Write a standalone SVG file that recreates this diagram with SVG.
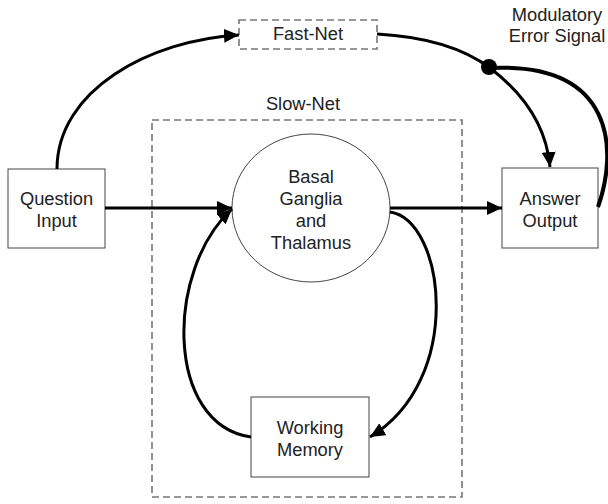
<svg xmlns="http://www.w3.org/2000/svg" width="608" height="504" viewBox="0 0 608 504">
<defs>
<style>
.box{fill:#fff;stroke:#444;stroke-width:1}
.dash{fill:none;stroke:#777;stroke-width:1.6;stroke-dasharray:7 4}
.t{font-family:"Liberation Sans",Arial,sans-serif;font-size:18.3px;fill:#222;text-anchor:middle}
.c{fill:none;stroke:#000;stroke-width:3}
</style>
<marker id="ah" markerUnits="userSpaceOnUse" markerWidth="16" markerHeight="14" refX="15" refY="7" orient="auto">
<path d="M0,0 L15,7 L0,14 Z" fill="#000"/>
</marker>
</defs>
<rect width="608" height="504" fill="#fff"/>
<g id="slow-net">
<rect class="dash" x="152" y="120" width="310" height="377"/>
<text class="t" x="303" y="110">Slow-Net</text>
</g>
<g id="fast-net">
<rect class="dash" x="239" y="20" width="138" height="29"/>
<text class="t" x="308" y="40">Fast-Net</text>
</g>
<g id="question-input">
<rect class="box" x="8" y="169" width="97" height="79"/>
<text class="t" x="56.5" y="205">Question</text>
<text class="t" x="56.5" y="227">Input</text>
</g>
<g id="basal-ganglia">
<ellipse class="box" cx="311" cy="208" rx="79" ry="74"/>
<text class="t" x="311" y="183">Basal</text>
<text class="t" x="311" y="205">Ganglia</text>
<text class="t" x="311" y="227">and</text>
<text class="t" x="311" y="249">Thalamus</text>
</g>
<g id="answer-output">
<rect class="box" x="502" y="168" width="96" height="80"/>
<text class="t" x="550" y="205">Answer</text>
<text class="t" x="550" y="227">Output</text>
</g>
<g id="working-memory">
<rect class="box" x="251" y="397" width="118" height="80"/>
<text class="t" x="310" y="434">Working</text>
<text class="t" x="310" y="456">Memory</text>
</g>
<g id="modulatory-label">
<text class="t" x="557" y="21">Modulatory</text>
<text class="t" x="557" y="42">Error Signal</text>
</g>
<g id="connectors">
<path class="c" d="M57,169 C57,90 150,40 239,35" marker-end="url(#ah)"/>
<path class="c" d="M377,34 Q450,38 490,68 Q545,110 550,167" marker-end="url(#ah)"/>
<path class="c" style="stroke-width:4" d="M598,207 C618,150 615,62 490,68"/>
<circle cx="489" cy="67" r="8" fill="#000"/>
<path class="c" d="M105,208 L232,208" marker-end="url(#ah)"/>
<path class="c" d="M390,208 L502,208" marker-end="url(#ah)"/>
<path class="c" d="M390,212 C445,220 465,380 370,437" marker-end="url(#ah)"/>
<path class="c" d="M251,437 C165,425 165,270 232,209" marker-end="url(#ah)"/>
</g>
</svg>
